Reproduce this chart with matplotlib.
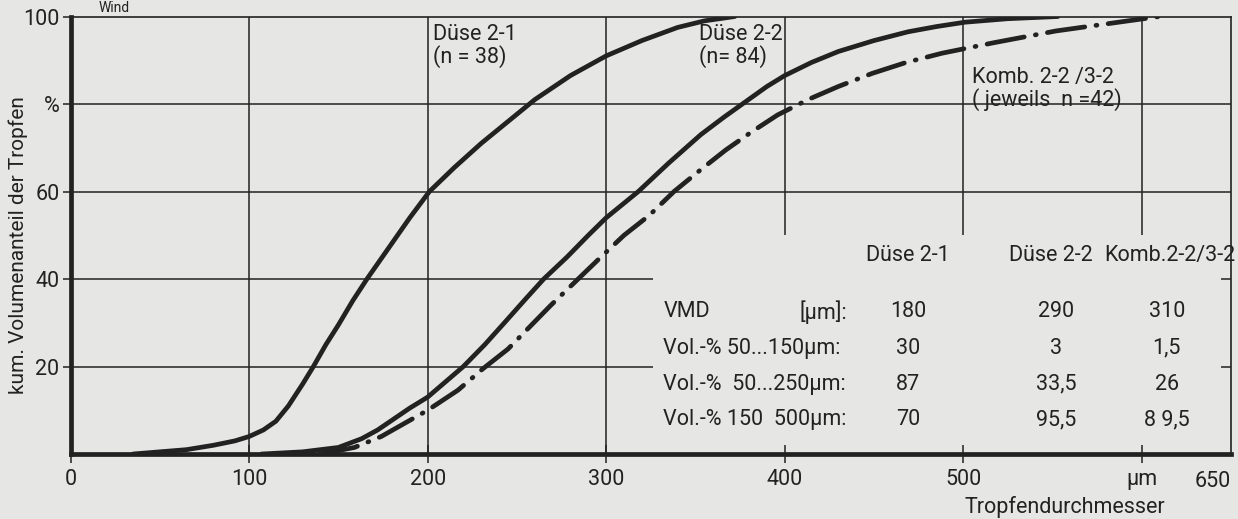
import matplotlib.pyplot as plt

# Kurvenpunkte
d21_x = [35, 50, 65, 80, 92, 100, 108, 115, 122, 130, 136, 143, 150, 158, 166, 178, 190,
         201, 215, 230, 245, 260, 280, 300, 320, 340, 355, 372]
d21_y = [0, 0.5, 1, 2, 3, 4, 5.5, 7.5, 11, 16, 20, 25, 29.5, 35, 40, 47, 54,
         60, 65.5, 71, 76, 81, 86.5, 91, 94.5, 97.5, 99, 100]

d22_x = [107, 130, 150, 163, 172, 181, 190, 200, 210, 220, 232, 243, 255, 265, 278, 290, 300,
         318, 335, 353, 366, 378, 390, 400, 415, 430, 450, 469, 485, 501, 525, 553]
d22_y = [0, 0.5, 1.5, 3.5, 5.5, 8, 10.5, 13, 16.5, 20, 25, 30, 35.5, 40, 45, 50, 54,
         60, 66.5, 73, 77, 80.5, 84, 86.5, 89.5, 92, 94.5, 96.5, 97.7, 98.7, 99.5, 100]

komb_x = [140, 159, 174, 187, 200, 217, 231, 245, 257, 269, 283, 297, 310, 324, 338, 353,
          367, 381, 396, 413, 430, 449, 468, 488, 517, 552, 587, 610]
komb_y = [0, 1.5, 4, 7, 10, 14.6, 19.5, 24, 29, 34, 39.5, 45, 50, 54.5, 60, 65,
          69.5, 73.5, 77.5, 81, 84, 87, 89.5, 91.6, 94, 96.7, 98.7, 100]

# Achsen
x_ticks = [0, 100, 200, 300, 400, 500, 600]
x_labels = ['0', '100', '200', '300', '400', '500', 'µm']
y_ticks = [20, 40, 60, 80, 100]
y_labels = ['20', '40', '60', '%', '100']

# Tabelle
tab_header = ['Düse 2-1', 'Düse 2-2', 'Komb.2-2/3-2']
tab_rows = ['VMD', 'Vol.-% 50...150µm:', 'Vol.-%  50...250µm:', 'Vol.-% 150  500µm:']
tab_vals = [['180', '290', '310'],
            ['30', '3', '1,5'],
            ['87', '33,5', '26'],
            ['70', '95,5', '8 9,5']]

ink = '#222222'
papier = '#e6e6e4'
fs = 15.5
plt.rcParams['font.family'] = ['Roboto', 'DejaVu Sans']

fig = plt.figure(figsize=(12.38, 5.19), dpi=100, facecolor=papier)
ax = fig.add_axes([0.057, 0.1252, 0.9374, 0.843])
ax.set_facecolor(papier)
ax.set_xlim(0, 650)
ax.set_ylim(0, 100)

# Gitter (teilweise)
ax.vlines([100, 200, 300], 0, 100, color=ink, lw=1.1, zorder=1)
ax.vlines([400, 500, 600], 50, 100, color=ink, lw=1.1, zorder=1)
ax.hlines([60, 80], 0, 650, color=ink, lw=1.1, zorder=1)
ax.hlines([20, 40], 0, 326, color=ink, lw=1.1, zorder=1)

# Kurven
ax.plot(d21_x, d21_y, color=ink, lw=3.4, solid_capstyle='round', solid_joinstyle='round', zorder=3)
ax.plot(d22_x, d22_y, color=ink, lw=3.4, solid_capstyle='round', solid_joinstyle='round', zorder=3)
ax.plot(komb_x, komb_y, color=ink, lw=3.4, dashes=(8.0, 2.4, 0.2, 2.4),
        dash_capstyle='round', zorder=3)

for s in ['left', 'bottom']:
    ax.spines[s].set_linewidth(3.4)
for s in ['top', 'right']:
    ax.spines[s].set_linewidth(1.2)
for s in ax.spines.values():
    s.set_color(ink)

ax.set_xticks(x_ticks)
ax.set_xticklabels(x_labels)
ax.set_yticks(y_ticks)
ax.set_yticklabels(y_labels)
ax.tick_params(axis='x', direction='inout', length=13, width=1.1, colors=ink, labelsize=fs, pad=4)
ax.tick_params(axis='y', direction='out', length=6, width=1.1, colors=ink, labelsize=fs, pad=2)

ax2 = ax.twinx()
ax2.set_ylim(0, 100)
ax2.set_yticks([20, 40])
ax2.tick_params(axis='y', direction='in', length=7, width=1.1, colors=ink, labelright=False)
for s in ax2.spines.values():
    s.set_visible(False)

ax.text(650, -3.8, '650', ha='right', va='top', fontsize=fs, color=ink)
ax.text(0.857, -0.121, 'Tropfendurchmesser', transform=ax.transAxes, ha='center', va='center',
        fontsize=fs, color=ink)
ax.set_ylabel('kum. Volumenanteil der Tropfen', fontsize=15, color=ink)
ax.yaxis.set_label_coords(-0.037, 0.478)

# Kurvenbeschriftung
ax.text(203, 98.3, 'Düse 2-1\n(n = 38)', ha='left', va='top', fontsize=fs, color=ink, linespacing=1.0)
ax.text(352, 98.3, 'Düse 2-2\n(n= 84)', ha='left', va='top', fontsize=fs, color=ink, linespacing=1.0)
ax.text(505, 88.5, 'Komb. 2-2 /3-2\n( jeweils  n =42)', ha='left', va='top', fontsize=fs,
        color=ink, linespacing=1.0)

# Tabelle
col_x = [469, 552, 614]
head_x = [469, 549, 615.5]
row_y = [32.5, 24.2, 16, 7.8]
for cx, h in zip(head_x, tab_header):
    ax.text(cx, 45.3, h, ha='center', va='center', fontsize=fs, color=ink)
for ry, name, vals in zip(row_y, tab_rows, tab_vals):
    ax.text(332, ry, name, ha='left', va='center', fontsize=fs, color=ink)
    for cx, v in zip(col_x, vals):
        ax.text(cx, ry, v, ha='center', va='center', fontsize=fs, color=ink)
ax.text(435, row_y[0], '[µm]:', ha='right', va='center', fontsize=fs, color=ink)

fig.text(0.08, 0.999, 'Wind', ha='left', va='top', fontsize=10, color=ink)

fig.savefig('out.png', dpi=100, facecolor=papier)
